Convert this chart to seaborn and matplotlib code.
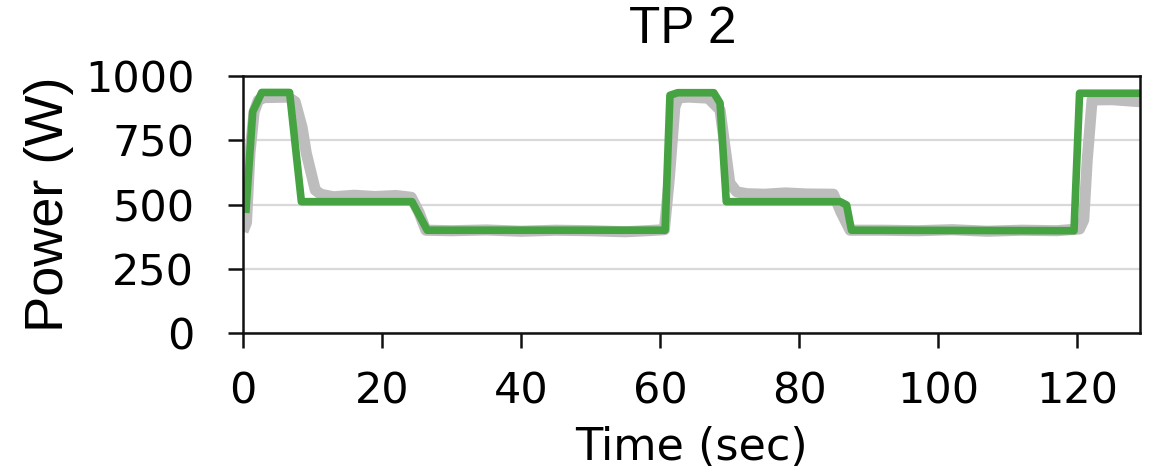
import matplotlib
matplotlib.use("Agg")
import matplotlib.pyplot as plt
import seaborn as sns
import pandas as pd

# Measured power (grey trace)
measured_time = [0, 0.5, 1.0, 1.6, 2.2, 3.0, 6.5, 7.5, 8.5, 9.1, 10.4, 11.2, 13, 16, 19, 22,
                 24.2, 25.3, 26.3, 30, 35, 40, 45, 50, 55, 58, 60.6, 61.3, 62.1, 62.6,
                 64, 66.9, 68.6, 70.0, 71.0, 72.5, 75, 78, 81, 84.9, 86.0, 87.3, 92, 97,
                 102, 107, 112, 117, 120.3, 120.9, 121.4, 122.1, 125, 129]
measured_power = [395, 430, 700, 860, 905, 916, 918, 900, 800, 700, 556, 540, 530, 536, 531,
                  535, 528, 470, 400, 398, 401, 396, 400, 398, 394, 398, 402, 600, 880, 915,
                  918, 914, 868, 584, 549, 542, 540, 545, 541, 540, 470, 400, 400, 398,
                  402, 396, 400, 398, 405, 440, 673, 907, 908, 900]

# Model prediction (green trace)
pred_time = [0.4, 1.4, 2.7, 6.7, 8.4, 24.3, 26.5, 60.7, 61.4, 62.5, 67.7, 68.6, 69.5,
             85.9, 86.8, 87.5, 119.5, 120.3, 129]
pred_power = [467, 861, 936, 936, 511, 511, 400, 400, 925, 935, 935, 895, 511,
              511, 498, 400, 398, 933, 933]

measured = pd.DataFrame({"Time": measured_time, "Power": measured_power})
pred = pd.DataFrame({"Time": pred_time, "Power": pred_power})

sns.set_style("white")
plt.rcParams["text.color"] = "black"
plt.rcParams["axes.labelcolor"] = "black"
plt.rcParams["xtick.color"] = "black"
plt.rcParams["ytick.color"] = "black"

fig = plt.figure(figsize=(11.51, 4.76), dpi=100)
ax = fig.add_axes([0.2111, 0.3004, 0.7794, 0.5399])

ax.grid(axis="y", color="#d9d9d9", linewidth=1.6)
ax.set_axisbelow(True)

sns.lineplot(data=measured, x="Time", y="Power", ax=ax, color="#bdbdbd",
             linewidth=8, solid_joinstyle="round", solid_capstyle="butt")
sns.lineplot(data=pred, x="Time", y="Power", ax=ax, color="#46a342",
             linewidth=5.5, solid_joinstyle="round", solid_capstyle="butt")

ax.set_xlim(0, 129)
ax.set_ylim(0, 1000)
ax.set_xticks([0, 20, 40, 60, 80, 100, 120])
ax.set_yticks([0, 250, 500, 750, 1000])

for side in ["left", "right", "top", "bottom"]:
    ax.spines[side].set_visible(True)
    ax.spines[side].set_color("#111111")
    ax.spines[side].set_linewidth(1.8)

ax.tick_params(axis="both", which="major", direction="out", length=11, width=1.8,
               color="#111111", bottom=True, left=True)
ax.tick_params(axis="x", pad=16)
ax.tick_params(axis="y", pad=24)
for lab in ax.get_xticklabels() + ax.get_yticklabels():
    lab.set_fontfamily("DejaVu Sans")
    lab.set_fontsize(31)
    lab.set_color("black")

ax.set_xlabel("Time (sec)", fontsize=32, family="DejaVu Sans", labelpad=10)
ax.set_ylabel("Power (W)", fontsize=39, family="Liberation Sans", labelpad=8)
ax.set_title("TP 2", fontsize=37, family="Liberation Sans", pad=24, x=0.49)

fig.savefig("out.png", dpi=100)
